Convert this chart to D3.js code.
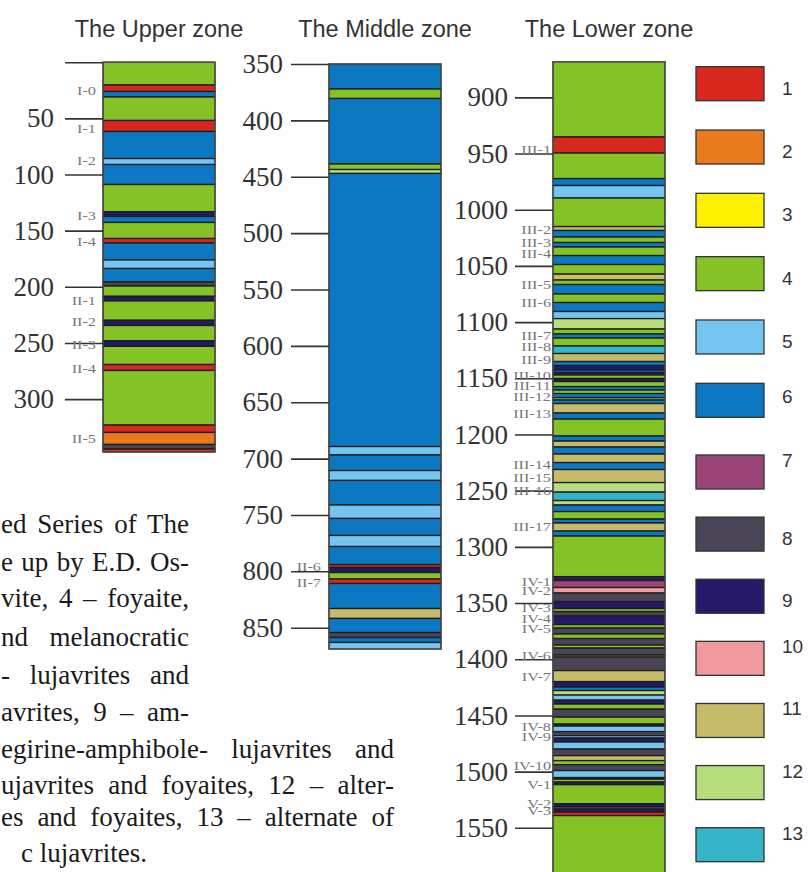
<!DOCTYPE html>
<html>
<head>
<meta charset="utf-8">
<script src="https://cdn.jsdelivr.net/npm/d3@7/dist/d3.min.js"></script>
<style>
  body { margin: 0; background: #fff; }
  svg { display: block; }
</style>
</head>
<body>
<script>
// legend: rock type number -> colour
var rockTypes = [1, 2, 3, 4, 5, 6, 7, 8, 9, 10, 11, 12, 13];
var rockColors = ["#d8271d", "#e77b1d", "#fff200", "#85c226", "#74c5ef", "#0b78c1",
                  "#9b4577", "#4a4457", "#27196a", "#f09a9d", "#c5bb6a", "#b8dd7d", "#35b5c7"];

// layers: [top depth, rock type]; each layer ends where the next one starts
var upperLayers = [[0, 4], [20.3, 1], [26.1, 6], [31.0, 4], [51.9, 1], [61.7, 6], [85.8, 5],
  [91.1, 6], [108.9, 4], [133.2, 9], [137.4, 6], [142.7, 4], [157.0, 1], [161.0, 6],
  [176.1, 5], [183.7, 6], [195.7, 8], [199.3, 4], [208.5, 9], [212.6, 4], [229.8, 9],
  [234.5, 4], [248.1, 9], [253.0, 4], [269.2, 1], [274.5, 4], [323.1, 1], [329.7, 2],
  [340.4, 8], [344.4, 1]];
var upperBase = 347.1;

var middleLayers = [[350, 6], [372.2, 4], [380.6, 6], [438.7, 4], [443.6, 12], [447.1, 6],
  [689.3, 5], [696.8, 6], [710.6, 5], [719.4, 6], [741.2, 5], [753.1, 6], [768.2, 5],
  [778.0, 6], [794.0, 1], [796.6, 9], [801.1, 4], [806.8, 1], [810.8, 6], [833.0, 11],
  [841.8, 6], [854.3, 8], [858.7, 6], [863.1, 5]];
var middleBase = 868.9;

var lowerLayers = [[868.3, 4], [935.3, 1], [949.6, 4], [972.3, 6], [978.5, 5], [989.6, 4],
  [1015.0, 11], [1018.5, 6], [1024.3, 4], [1029.2, 6], [1033.2, 4], [1040.8, 6], [1048.8, 4],
  [1057.3, 11], [1062.6, 4], [1066.6, 6], [1075.0, 4], [1082.6, 6], [1090.6, 5], [1096.9, 12],
  [1106.2, 4], [1110.6, 6], [1114.2, 4], [1121.3, 13], [1128.0, 11], [1135.1, 6], [1138.7, 9],
  [1142.7, 6], [1144.9, 9], [1147.1, 4], [1150.2, 9], [1152.9, 4], [1157.4, 6], [1160.5, 4],
  [1163.6, 6], [1167.2, 4], [1169.4, 6], [1172.5, 11], [1180.9, 6], [1186.3, 4], [1201.4, 6],
  [1205.9, 11], [1211.2, 6], [1217.4, 11], [1225.0, 6], [1231.2, 11], [1242.8, 12], [1251.3, 13],
  [1258.8, 12], [1262.8, 6], [1268.6, 4], [1275.3, 6], [1278.8, 11], [1286.0, 6], [1290.4, 4],
  [1326.5, 9], [1330.0, 7], [1336.2, 10], [1341.1, 8], [1348.7, 9], [1354.9, 4], [1357.6, 8],
  [1361.6, 9], [1369.2, 4], [1372.3, 8], [1377.6, 4], [1381.6, 8], [1387.4, 4], [1390.1, 8],
  [1396.3, 4], [1398.1, 8], [1410.1, 11], [1419.9, 9], [1424.8, 6], [1427.9, 12], [1431.9, 5],
  [1436.4, 9], [1439.9, 4], [1444.4, 8], [1451.5, 4], [1457.7, 9], [1459.5, 5], [1464.4, 8],
  [1468.0, 5], [1470.2, 9], [1473.7, 5], [1480.0, 8], [1485.8, 11], [1490.2, 4], [1493.8, 8],
  [1499.1, 5], [1505.3, 8], [1506.7, 4], [1509.3, 9], [1511.6, 4], [1528.5, 9], [1531.1, 8],
  [1533.4, 9], [1536.0, 1], [1539.1, 4]];
var lowerBase = 1600;

// depth ticks
var upperTicks = [0, 50, 100, 150, 200, 250, 300];
var middleTicks = [350, 400, 450, 500, 550, 600, 650, 700, 750, 800, 850];
var lowerTicks = [900, 950, 1000, 1050, 1100, 1150, 1200, 1250, 1300, 1350, 1400, 1450, 1500, 1550];

// horizon marks: [name, depth]
var upperMarks = [["I-0", 24.8], ["I-1", 59.2], ["I-2", 87.1], ["I-3", 136.1], ["I-4", 159.8],
  ["II-1", 211.8], ["II-2", 231.1], ["II-3", 250.9], ["II-4", 272.6], ["II-5", 334.9]];
var middleMarks = [["II-6", 795.9], ["II-7", 810.1]];
var lowerMarks = [["III-1", 946.3], ["III-2", 1017.2], ["III-3", 1028.8], ["III-4", 1038.8],
  ["III-5", 1066.4], ["III-6", 1082.8], ["III-7", 1111.5], ["III-8", 1121.9], ["III-9", 1132.9],
  ["III-10", 1147.1], ["III-11", 1156.0], ["III-12", 1166.4], ["III-13", 1181.2],
  ["III-14", 1226.3], ["III-15", 1238.2], ["III-16", 1250.1], ["III-17", 1282.1],
  ["IV-1", 1330.5], ["IV-2", 1338.5], ["IV-3", 1354.2], ["IV-4", 1363.6], ["IV-5", 1372.5],
  ["IV-6", 1396.3], ["IV-7", 1415.6], ["IV-8", 1459.5], ["IV-9", 1469.0], ["IV-10", 1494.2],
  ["V-1", 1511.1], ["V-2", 1528.3], ["V-3", 1534.2]];

// caption fragments (left part of the text is cut off by the page edge)
var captionLines = ["ed Series of The", "e up by E.D. Os-", "vite, 4 – foyaite,",
  "nd melanocratic", "- lujavrites and", "avrites, 9 – am-",
  "egirine-amphibole- lujavrites and", "ujavrites and foyaites, 12 – alter-",
  "es and foyaites, 13 – alternate of", "c lujavrites."];

var width = 808, height = 872;
var serif = "'Liberation Serif', 'Times New Roman', serif";
var sans = "'Liberation Sans', Arial, sans-serif";

var svg = d3.select("body").append("svg")
    .attr("width", width)
    .attr("height", height);

var color = d3.scaleOrdinal().domain(rockTypes).range(rockColors);

var zones = [
  {title: "The Upper zone", layers: upperLayers, base: upperBase, ticks: upperTicks, marks: upperMarks,
   x: 103, w: 112, range: [62.2, 452], markX: 96, pad: 11},
  {title: "The Middle zone", layers: middleLayers, base: middleBase, ticks: middleTicks, marks: middleMarks,
   x: 329, w: 112, range: [64, 649], markX: 321, pad: 8},
  {title: "The Lower zone", layers: lowerLayers, base: lowerBase, ticks: lowerTicks, marks: lowerMarks,
   x: 553, w: 112, range: [61.7, 884], markX: 551, pad: 7}
];

// caption text sits behind the columns, justified and cut at the page edge
var capRight = [189, 189, 189, 189, 189, 189, 394, 394, 394, 147];
var capBase = [533, 571, 607, 646, 684, 721, 758, 794, 826, 862];
var cap = svg.append("g")
    .style("font-family", serif)
    .style("font-size", "27px")
    .attr("fill", "#1a1a1a");
cap.selectAll("text")
  .data(captionLines)
  .enter().append("text")
    .attr("x", function(d, i) { return capRight[i]; })
    .attr("y", function(d, i) { return capBase[i]; })
    .attr("text-anchor", "end")
    .text(function(d) { return d; })
    .each(function(d, i) {
      if (i === captionLines.length - 1) return;
      var w = this.getComputedTextLength();
      var gaps = d.split(" ").length - 1;
      var extra = capRight[i] - 1 - w;
      if (gaps > 0 && extra > 0) d3.select(this).style("word-spacing", (extra / gaps) + "px");
    });

zones.forEach(function(z) {
  var y = d3.scaleLinear()
      .domain([z.layers[0][0], z.base])
      .range(z.range);

  var g = svg.append("g");

  g.append("text")
      .attr("x", z.x + z.w / 2)
      .attr("y", 37)
      .attr("text-anchor", "middle")
      .style("font-family", sans)
      .style("font-size", "23.5px")
      .attr("fill", "#333")
      .text(z.title);

  g.selectAll("rect.layer")
    .data(z.layers)
    .enter().append("rect")
      .attr("class", "layer")
      .attr("x", z.x)
      .attr("width", z.w)
      .attr("y", function(d) { return y(d[0]); })
      .attr("height", function(d, i) {
        var bottom = i < z.layers.length - 1 ? z.layers[i + 1][0] : z.base;
        return y(bottom) - y(d[0]);
      })
      .attr("fill", function(d) { return color(d[1]); })
      .attr("stroke", "#1c1c1c")
      .attr("stroke-width", 1.3);

  g.append("rect")
      .attr("x", z.x)
      .attr("y", y(z.layers[0][0]))
      .attr("width", z.w)
      .attr("height", y(z.base) - y(z.layers[0][0]))
      .attr("fill", "none")
      .attr("stroke", "#555")
      .attr("stroke-width", 1.2);

  var axis = d3.axisLeft(y)
      .tickValues(z.ticks)
      .tickSize(38)
      .tickPadding(z.pad)
      .tickFormat(function(d) { return d === 0 ? "" : d; });

  var ax = g.append("g")
      .attr("transform", "translate(" + z.x + ",0)")
      .call(axis);
  ax.select(".domain").remove();
  ax.selectAll(".tick line")
      .attr("stroke", "#333")
      .attr("stroke-width", 1.6);
  ax.selectAll(".tick text")
      .style("font-family", serif)
      .style("font-size", "27px")
      .attr("fill", "#333");

  // horizon names, drawn a bit wide like the scanned original
  g.selectAll("text.mark")
    .data(z.marks)
    .enter().append("text")
      .attr("class", "mark")
      .attr("transform", function(d) {
        return "translate(" + z.markX + "," + y(d[1]) + ") scale(1.25,1)";
      })
      .attr("dy", "0.35em")
      .attr("text-anchor", "end")
      .style("font-family", serif)
      .style("font-size", "13px")
      .attr("fill", "#777")
      .text(function(d) { return d[0]; });
});

// legend, in two runs (1-6 and 7-13)
var ly1 = d3.scalePoint().domain(rockTypes.slice(0, 6)).range([66.7, 383.3]);
var ly2 = d3.scalePoint().domain(rockTypes.slice(6)).range([455, 827.7]);
var legend = svg.append("g");
var item = legend.selectAll("g")
  .data(rockTypes)
  .enter().append("g")
    .attr("transform", function(d) {
      return "translate(696," + (d <= 6 ? ly1(d) : ly2(d)) + ")";
    });
item.append("rect")
    .attr("width", 68)
    .attr("height", 34)
    .attr("fill", function(d) { return color(d); })
    .attr("stroke", "#333")
    .attr("stroke-width", 1.3);
item.append("text")
    .attr("x", 86)
    .attr("y", function(d) { return d === 6 ? 20 : (d === 7 || d >= 10 ? 12 : 28); })
    .style("font-family", sans)
    .style("font-size", "19px")
    .attr("fill", "#333")
    .text(function(d) { return d; });
</script>
</body>
</html>
